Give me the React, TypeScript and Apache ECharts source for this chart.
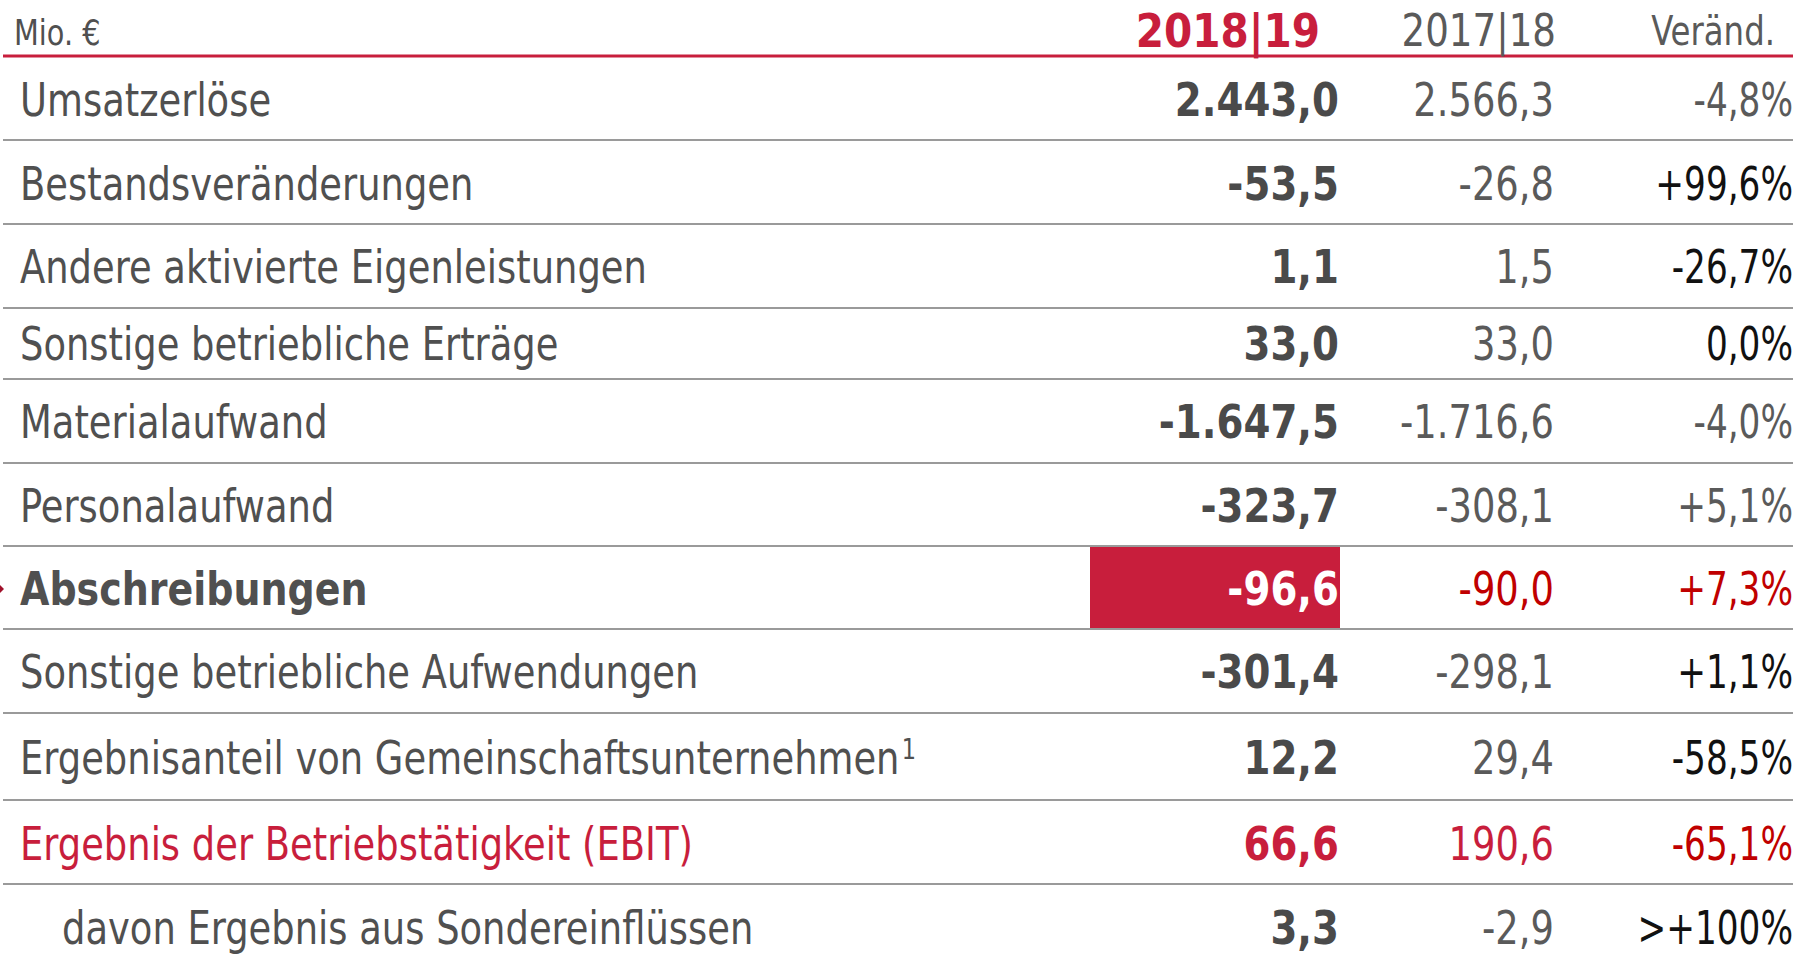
import React, { useEffect, useRef } from "react";
import * as echarts from "echarts";

// ---- data ----
const unitLabel = "Mio. €";
const headerCurrent = "2018|19";
const headerPrior = "2017|18";
const headerChange = "Veränd.";

const rowLabels = [
  "Umsatzerlöse",
  "Bestandsveränderungen",
  "Andere aktivierte Eigenleistungen",
  "Sonstige betriebliche Erträge",
  "Materialaufwand",
  "Personalaufwand",
  "Abschreibungen",
  "Sonstige betriebliche Aufwendungen",
  "Ergebnisanteil von Gemeinschaftsunternehmen",
  "Ergebnis der Betriebstätigkeit (EBIT)",
  "davon Ergebnis aus Sondereinflüssen",
];
const rowFootnotes = ["", "", "", "", "", "", "", "", "1", "", ""];
const valuesCurrent = [2443.0, -53.5, 1.1, 33.0, -1647.5, -323.7, -96.6, -301.4, 12.2, 66.6, 3.3];
const valuesPrior = [2566.3, -26.8, 1.5, 33.0, -1716.6, -308.1, -90.0, -298.1, 29.4, 190.6, -2.9];
const changePct: (number | null)[] = [-4.8, 99.6, -26.7, 0.0, -4.0, 5.1, 7.3, 1.1, -58.5, -65.1, null];
const changeCappedLabel = ">+100%";

// ---- styling (kept separate from data) ----
const highlightLabel = "Abschreibungen";
const totalLabel = "Ergebnis der Betriebstätigkeit (EBIT)";
const subLabel = "davon Ergebnis aus Sondereinflüssen";
const changeTone = ["gray", "black", "black", "black", "gray", "gray", "red", "black", "black", "red", "black"];

const CRIMSON = "#C81E3C";
const RED = "#C00000";
const GRAY_TXT = "#505050";
const GRAY_VAL = "#4A4A4A";
const GRAY_PRI = "#5A5A5A";
const BLACK = "#111111";
const SEP = "#9A9A9A";
const FONT = '"DejaVu Sans Condensed", "DejaVu Sans", sans-serif';

const FS = 41;
const SX = 1.0;
const SY = 1.12;
const SX_BOLD = 1.05;
const SX_CHG = 0.93;

// layout
const rowBounds = [56, 140, 224, 308, 379, 463, 546, 629, 713, 800, 884, 970];
const rowCenters = [100, 184, 267, 344, 422, 506, 589, 672, 758, 844, 928];
const X_LABEL = 20;
const X_SUB = 62;
const X_CUR = 1339;
const X_PRI = 1554;
const X_CHG = 1793;
const LINE_X1 = 3;
const LINE_X2 = 1793;

function fmt(n: number, sign = false): string {
  const neg = n < 0;
  const parts = Math.abs(n).toFixed(1).split(".");
  const i = parts[0].replace(/\B(?=(\d{3})+(?!\d))/g, ".");
  return (neg ? "-" : sign && n > 0 ? "+" : "") + i + "," + parts[1];
}

function txt(x: number, y: number, text: string, opts: any = {}) {
  return {
    type: "text",
    x,
    y,
    scaleX: opts.sx ?? SX,
    scaleY: opts.sy ?? SY,
    silent: true,
    style: {
      text,
      fontSize: opts.size ?? FS,
      fontFamily: FONT,
      fontWeight: opts.bold ? "bold" : "normal",
      fill: opts.fill ?? GRAY_TXT,
      align: opts.align ?? "left",
      verticalAlign: "middle",
      rich: opts.rich,
    },
  };
}

export default function App() {
  const ref = useRef<HTMLDivElement>(null);
  useEffect(() => {
    document.body.style.margin = "0";
    const chart = echarts.init(ref.current!, null, { renderer: "svg" });
    const els: any[] = [];

    // highlight cell
    const hi = rowLabels.indexOf(highlightLabel);
    els.push({
      type: "rect",
      shape: { x: 1090, y: rowBounds[hi], width: X_CUR + 1 - 1090, height: rowBounds[hi + 1] - rowBounds[hi] },
      style: { fill: CRIMSON },
      silent: true,
    });
    // marker arrow
    els.push({
      type: "polygon",
      shape: { points: [[-2, rowCenters[hi] - 6], [4, rowCenters[hi]], [-2, rowCenters[hi] + 6]] },
      style: { fill: "#A0102A" },
      silent: true,
    });

    // separators
    for (let i = 1; i < rowBounds.length - 1; i++) {
      els.push({
        type: "line",
        shape: { x1: LINE_X1, y1: rowBounds[i], x2: LINE_X2, y2: rowBounds[i] },
        style: { stroke: SEP, lineWidth: 2 },
        silent: true,
      });
    }
    els.push({
      type: "line",
      shape: { x1: LINE_X1, y1: rowBounds[0], x2: LINE_X2, y2: rowBounds[0] },
      style: { stroke: CRIMSON, lineWidth: 3 },
      silent: true,
    });

    // header
    els.push(txt(14, 32, unitLabel, { size: 32 }));
    els.push(txt(1320, 31, headerCurrent, { bold: true, fill: CRIMSON, align: "right", size: 41, sx: 1.1 }));
    els.push(txt(1556, 31, headerPrior, { fill: GRAY_PRI, align: "right", size: 39, sx: 1.06 }));
    els.push(txt(1775, 31, headerChange, { fill: GRAY_PRI, align: "right", size: 36 }));

    rowLabels.forEach((label, i) => {
      const y = rowCenters[i];
      const isHi = label === highlightLabel;
      const isTot = label === totalLabel;
      const isSub = label === subLabel;
      const labelFill = isTot ? CRIMSON : GRAY_TXT;
      if (rowFootnotes[i]) {
        els.push(
          txt(X_LABEL, y, `{a|${label}}{s|${rowFootnotes[i]}}`, {
            fill: labelFill,
            rich: {
              a: { fontSize: FS, fontFamily: FONT, fill: labelFill },
              s: { fontSize: 25, fontFamily: FONT, fill: labelFill, verticalAlign: "top", padding: [0, 0, 14, 2] },
            },
          })
        );
      } else {
        els.push(txt(isSub ? X_SUB : X_LABEL, y, label, { fill: labelFill, bold: isHi, sx: isHi ? 1.03 : SX }));
      }
      els.push(
        txt(X_CUR, y, fmt(valuesCurrent[i]), {
          bold: true,
          align: "right",
          sx: SX_BOLD,
          fill: isHi ? "#FFFFFF" : isTot ? CRIMSON : GRAY_VAL,
        })
      );
      els.push(
        txt(X_PRI, y, fmt(valuesPrior[i]), {
          align: "right",
          fill: isHi ? RED : isTot ? CRIMSON : GRAY_PRI,
        })
      );
      const c = changePct[i];
      const tone = changeTone[i];
      els.push(
        txt(X_CHG, y, c === null ? changeCappedLabel : fmt(c, true) + "%", {
          align: "right",
          sx: SX_CHG,
          fill: tone === "red" ? RED : tone === "black" ? BLACK : GRAY_PRI,
        })
      );
    });

    chart.setOption({ animation: false, graphic: { elements: els } });
    return () => chart.dispose();
  }, []);
  return <div ref={ref} style={{ width: 1800, height: 962, background: "#fff" }} />;
}
